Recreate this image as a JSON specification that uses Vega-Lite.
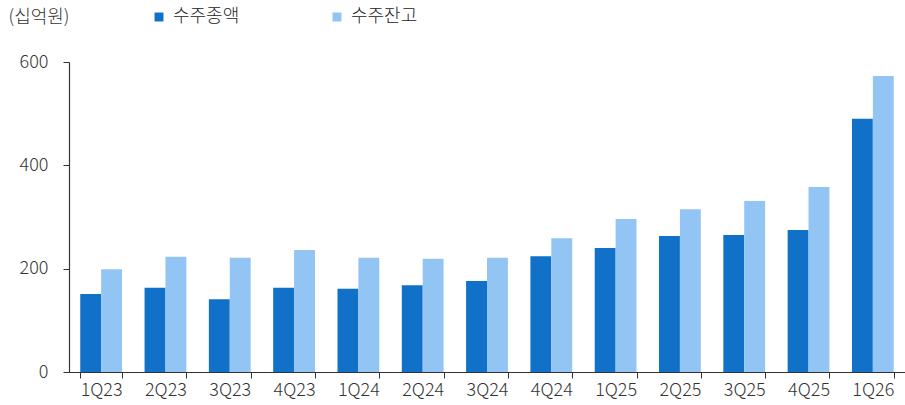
{
  "$schema": "https://vega.github.io/schema/vega-lite/v6.json",
  "width": 836,
  "height": 310,
  "autosize": {"type": "none"},
  "padding": {"left": 69, "top": 62, "right": 0, "bottom": 33},
  "background": "white",
  "config": {
    "view": {"stroke": null},
    "font": "Noto Sans CJK KR",
    "axis": {"labelFont": "Noto Sans CJK KR", "titleFont": "Noto Sans CJK KR", "labelColor": "#333333", "titleColor": "#333333", "domainColor": "#333333", "tickColor": "#333333", "labelFontWeight": 300},
    "legend": {"labelFont": "Noto Sans CJK KR", "labelFontWeight": 300}
  },
  "data": {
    "values": [
      {"q": "1Q23", "s": "수주종액", "v": 151}, {"q": "1Q23", "s": "수주잔고", "v": 199},
      {"q": "2Q23", "s": "수주종액", "v": 163}, {"q": "2Q23", "s": "수주잔고", "v": 223},
      {"q": "3Q23", "s": "수주종액", "v": 141}, {"q": "3Q23", "s": "수주잔고", "v": 221},
      {"q": "4Q23", "s": "수주종액", "v": 163}, {"q": "4Q23", "s": "수주잔고", "v": 236},
      {"q": "1Q24", "s": "수주종액", "v": 161}, {"q": "1Q24", "s": "수주잔고", "v": 221},
      {"q": "2Q24", "s": "수주종액", "v": 168}, {"q": "2Q24", "s": "수주잔고", "v": 219},
      {"q": "3Q24", "s": "수주종액", "v": 176}, {"q": "3Q24", "s": "수주잔고", "v": 221},
      {"q": "4Q24", "s": "수주종액", "v": 224}, {"q": "4Q24", "s": "수주잔고", "v": 259},
      {"q": "1Q25", "s": "수주종액", "v": 240}, {"q": "1Q25", "s": "수주잔고", "v": 296},
      {"q": "2Q25", "s": "수주종액", "v": 263}, {"q": "2Q25", "s": "수주잔고", "v": 315},
      {"q": "3Q25", "s": "수주종액", "v": 265}, {"q": "3Q25", "s": "수주잔고", "v": 331},
      {"q": "4Q25", "s": "수주종액", "v": 275}, {"q": "4Q25", "s": "수주잔고", "v": 358},
      {"q": "1Q26", "s": "수주종액", "v": 490}, {"q": "1Q26", "s": "수주잔고", "v": 573}
    ]
  },
  "mark": {"type": "bar"},
  "encoding": {
    "x": {
      "field": "q", "type": "nominal", "sort": null,
      "scale": {"paddingInner": 0.35, "paddingOuter": 0.175},
      "axis": {"title": null, "labelAngle": 0, "labelFontSize": 18, "tickBand": "extent", "tickSize": 6, "labelPadding": 3, "domainWidth": 1.2}
    },
    "xOffset": {"field": "s", "type": "nominal", "sort": ["수주종액", "수주잔고"]},
    "y": {
      "field": "v", "type": "quantitative",
      "scale": {"domain": [0, 600]},
      "axis": {"values": [0, 200, 400, 600], "grid": false, "tickSize": 6, "labelPadding": 15, "labelFontSize": 18,
        "title": "(십억원)", "titleAngle": 0, "titleAlign": "left", "titleBaseline": "middle", "titleX": -61, "titleY": -45, "titleFontSize": 18, "titleFontWeight": 300, "domainWidth": 1.2}
    },
    "color": {
      "field": "s", "type": "nominal",
      "scale": {"domain": ["수주종액", "수주잔고"], "range": ["#1170C8", "#92C5F4"]},
      "legend": {"title": null, "orient": "none", "direction": "horizontal", "legendX": 81, "legendY": -54, "symbolType": "square", "symbolSize": 80, "symbolStrokeWidth": 0, "labelFontSize": 18, "labelLimit": 200, "labelColor": "#222222", "columnPadding": 88, "symbolOffset": 0, "labelOffset": 5}
    }
  }
}
